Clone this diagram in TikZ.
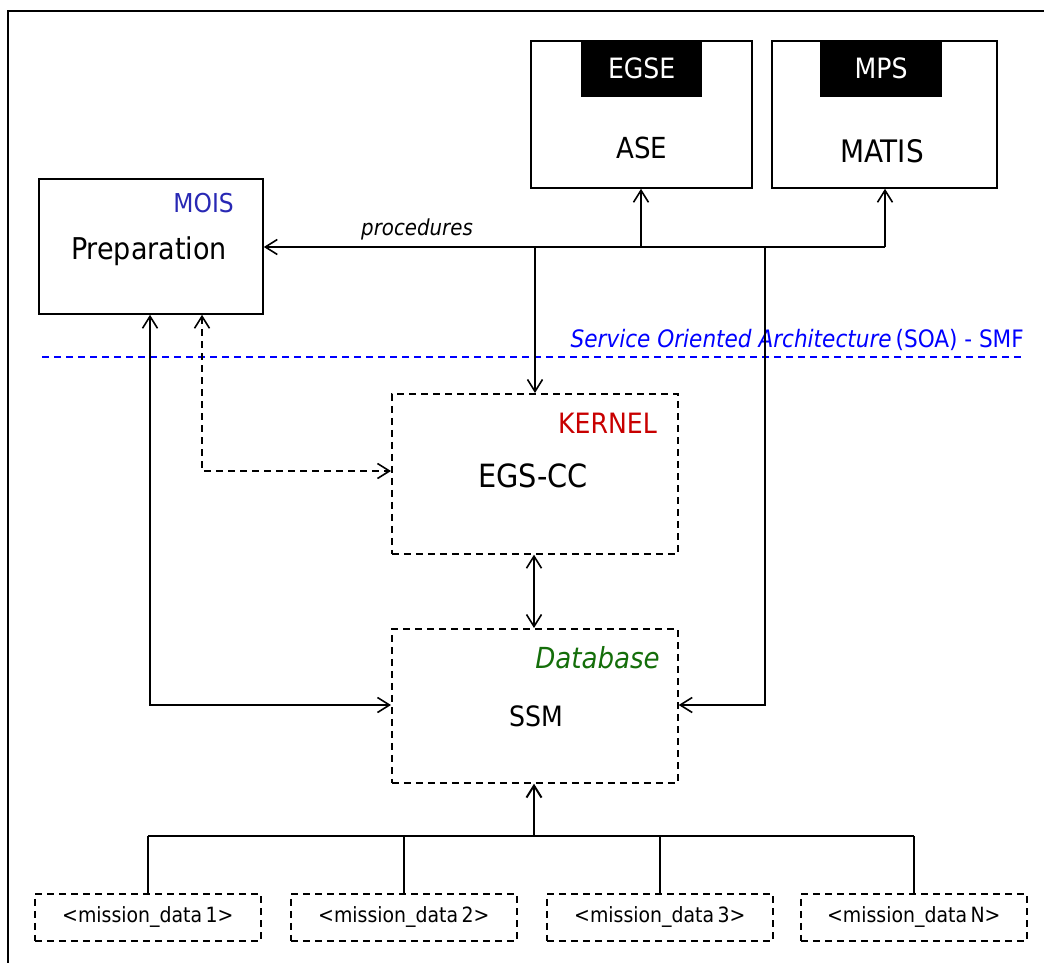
\documentclass[tikz,border=0pt]{standalone}
\usepackage{fontspec}
\setmainfont{DejaVu Sans Condensed}
\usetikzlibrary{arrows.meta}
\definecolor{moisblue}{RGB}{40,40,180}
\definecolor{soablue}{RGB}{0,0,255}
\definecolor{kernred}{RGB}{200,0,0}
\definecolor{dbgreen}{RGB}{20,110,10}
\tikzset{
  barb/.tip={Straight Barb[length=12pt,width=15pt,line width=1.6pt]},
  solidbox/.style={draw, line width=1.8pt, inner sep=0pt, anchor=north west},
  dashbox/.style={draw, dashed, dash pattern=on 7pt off 5pt, line width=1.7pt, inner sep=0pt, anchor=north west},
  tagbox/.style={fill=black, text=white, inner sep=0pt, anchor=north west, font=\fontsize{28}{32}\selectfont},
  conn/.style={line width=1.6pt, -barb},
  conn2/.style={line width=1.6pt, barb-barb},
  dconn2/.style={conn2, dashed, dash pattern=on 7pt off 5pt},
  lbl/.style={inner sep=0pt, anchor=base},
}
\begin{document}
\begin{tikzpicture}[x=1pt,y=-1pt]
\useasboundingbox (0,0) rectangle (1044,963);
% frame
\draw[line width=1.8pt] (8,963) -- (8,11) -- (1044,11);

% boxes
\node[solidbox, minimum width=224pt, minimum height=135pt] (prep) at (38,178) {};
\node[lbl, font=\fontsize{26}{30}\selectfont, text=moisblue, anchor=base east] (mois) at (234,212) {MOIS};
\node[lbl, font=\fontsize{30}{34}\selectfont] (preptxt) at (149,259) {Preparation};

\node[solidbox, minimum width=221pt, minimum height=147pt] (ase) at (530,40) {};
\node[tagbox, minimum width=121pt, minimum height=56pt, text depth=2pt] (egse) at (581,41) {EGSE};
\node[lbl, font=\fontsize{29}{32}\selectfont] (asetxt) at (642,158) {ASE};

\node[solidbox, minimum width=225pt, minimum height=147pt] (matis) at (771,40) {};
\node[tagbox, minimum width=122pt, minimum height=56pt, text depth=2pt] (mps) at (820,41) {MPS};
\node[lbl, font=\fontsize{31}{34}\selectfont] (matistxt) at (882,163) {MATIS};

\node[dashbox, minimum width=286pt, minimum height=160pt] (egs) at (391,393) {};
\node[lbl, font=\fontsize{28}{32}\selectfont, text=kernred, anchor=base east] (kern) at (657,433) {KERNEL};
\node[lbl, font=\fontsize{32}{36}\selectfont] (egstxt) at (533,487) {EGS-CC};

\node[dashbox, minimum width=286pt, minimum height=154pt] (ssm) at (391,628) {};
\node[lbl, font=\fontsize{29}{32}\itshape\selectfont, text=dbgreen, anchor=base east] (db) at (660,668) {Database};
\node[lbl, font=\fontsize{28}{32}\selectfont] (ssmtxt) at (536,726) {SSM};

\foreach \i/\x/\t in {1/34/1, 2/290/2, 3/546/3, 4/800/N}{
  \node[dashbox, minimum width=226pt, minimum height=47pt] (md\i) at (\x,893) {};
  \node[font=\fontsize{21}{24}\selectfont, inner sep=0pt] at (md\i.center) {<mission\_data\,\t>};
}

% SOA line
\draw[soablue, line width=1.4pt, dashed, dash pattern=on 7pt off 5pt] (42,357) -- (1025,357);
\node[lbl, anchor=base east, text=soablue, font=\fontsize{24}{28}\selectfont] (soa) at (1024,347) {\textit{Service Oriented Architecture}\,(SOA) - SMF};

% junction coordinates
\coordinate (jA) at (641,247);
\coordinate (jB) at (535,247);
\coordinate (jC) at (765,247);
\coordinate (jD) at (885,247);

% procedures
\draw[conn] (jD) -- (prep.east |- jD);
\node[lbl, font=\fontsize{22}{26}\itshape\selectfont] (proc) at (417,235) {procedures};
\draw[conn] (jA) -- (jA |- ase.south);
\draw[conn] (jD) -- (jD |- matis.south);
\draw[conn] (jB) -- (jB |- egs.north);
\coordinate (jE) at (765,705);
\draw[conn] (jC) -- (jE) -- (ssm.east |- jE);

% Preparation to EGS-CC (dashed) and SSM (solid)
\coordinate (kA) at (202,471);
\draw[dconn2] (prep.south -| kA) -- (kA) -- (egs.west |- kA);
\coordinate (kB) at (150,705);
\draw[conn2] (prep.south -| kB) -- (kB) -- (ssm.west |- kB);

% EGS-CC <-> SSM
\draw[conn2] (egs.south -| 534,0) -- (ssm.north -| 534,0);

% mission data bus
\coordinate (bus) at (534,836);
\draw[line width=2.6pt, -{Straight Barb[length=12pt,width=15pt,line width=2pt]}] (bus) -- (ssm.south -| bus);
\draw[line width=2.2pt] (md1.north |- bus) -- (md4.north |- bus);
\foreach \i in {1,...,4}{
  \draw[line width=1.6pt] (md\i.north |- bus) -- (md\i.north);
}
\end{tikzpicture}
\end{document}
